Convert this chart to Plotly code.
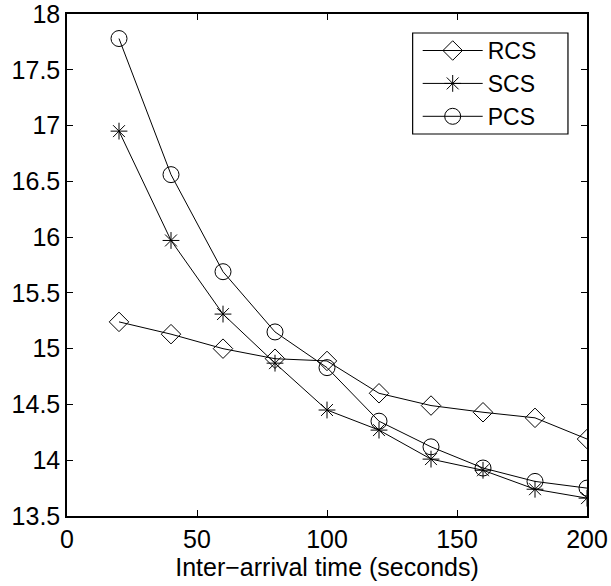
import plotly.graph_objects as go

x_vals = [20, 40, 60, 80, 100, 120, 140, 160, 180, 200]
rcs = [15.24, 15.13, 15.00, 14.91, 14.89, 14.60, 14.49, 14.43, 14.38, 14.19]
scs = [16.95, 15.97, 15.31, 14.87, 14.45, 14.27, 14.01, 13.91, 13.74, 13.66]
pcs = [17.78, 16.56, 15.69, 15.15, 14.83, 14.35, 14.12, 13.93, 13.81, 13.75]
series_names = ["RCS", "SCS", "PCS"]
x_ticks = [0, 50, 100, 150, 200]
y_ticks = [13.5, 14, 14.5, 15, 15.5, 16, 16.5, 17, 17.5, 18]
y_tick_text = ["13.5", "14", "14.5", "15", "15.5", "16", "16.5", "17", "17.5", "18"]

symbols = ["diamond-open", "asterisk-open", "circle-open"]
sizes = [15, 14, 16]

fig = go.Figure()
for name, ys, sym, sz in zip(series_names, [rcs, scs, pcs], symbols, sizes):
    fig.add_trace(go.Scatter(
        x=x_vals, y=ys, name=name, mode="lines+markers",
        line=dict(color="black", width=1),
        marker=dict(symbol=sym, size=sz, color="black", line=dict(color="black", width=1)),
    ))

font = dict(family="Liberation Sans, Arial, sans-serif", size=25, color="black")
legend_font = dict(family="Liberation Sans, Arial, sans-serif", size=23, color="black")
axis_common = dict(
    showgrid=False, zeroline=False, showline=True, linecolor="black", linewidth=1.5,
    mirror="ticks", ticks="inside", ticklen=6, tickcolor="black", tickwidth=1,
    tickfont=font, automargin=False, ticklabeloverflow="allow",
)
# legend frame drawn as a paper-space rectangle
fig.add_shape(type="rect", xref="paper", yref="paper",
              x0=0.6647, x1=0.9634, y0=0.761, y1=0.9622,
              line=dict(color="black", width=1.2), fillcolor="white", layer="above")
fig.update_layout(
    width=611, height=586,
    margin=dict(l=67, r=24, t=14, b=70),
    paper_bgcolor="white", plot_bgcolor="white",
    font=font,
    xaxis=dict(range=[0, 200], tickvals=x_ticks,
               title=dict(text="Inter\u2212arrival time (seconds)", font=font, standoff=0),
               **axis_common),
    yaxis=dict(range=[13.5, 18], tickvals=y_ticks, ticktext=y_tick_text, **axis_common),
    legend=dict(x=0.6744, y=0.970, xanchor="left", yanchor="top",
                borderwidth=0, bgcolor="rgba(0,0,0,0)",
                font=legend_font, tracegroupgap=0, itemwidth=60),
    showlegend=True,
)
fig.write_html("out.html", config={"displayModeBar": False},
               post_script="document.body.style.margin='0';")
